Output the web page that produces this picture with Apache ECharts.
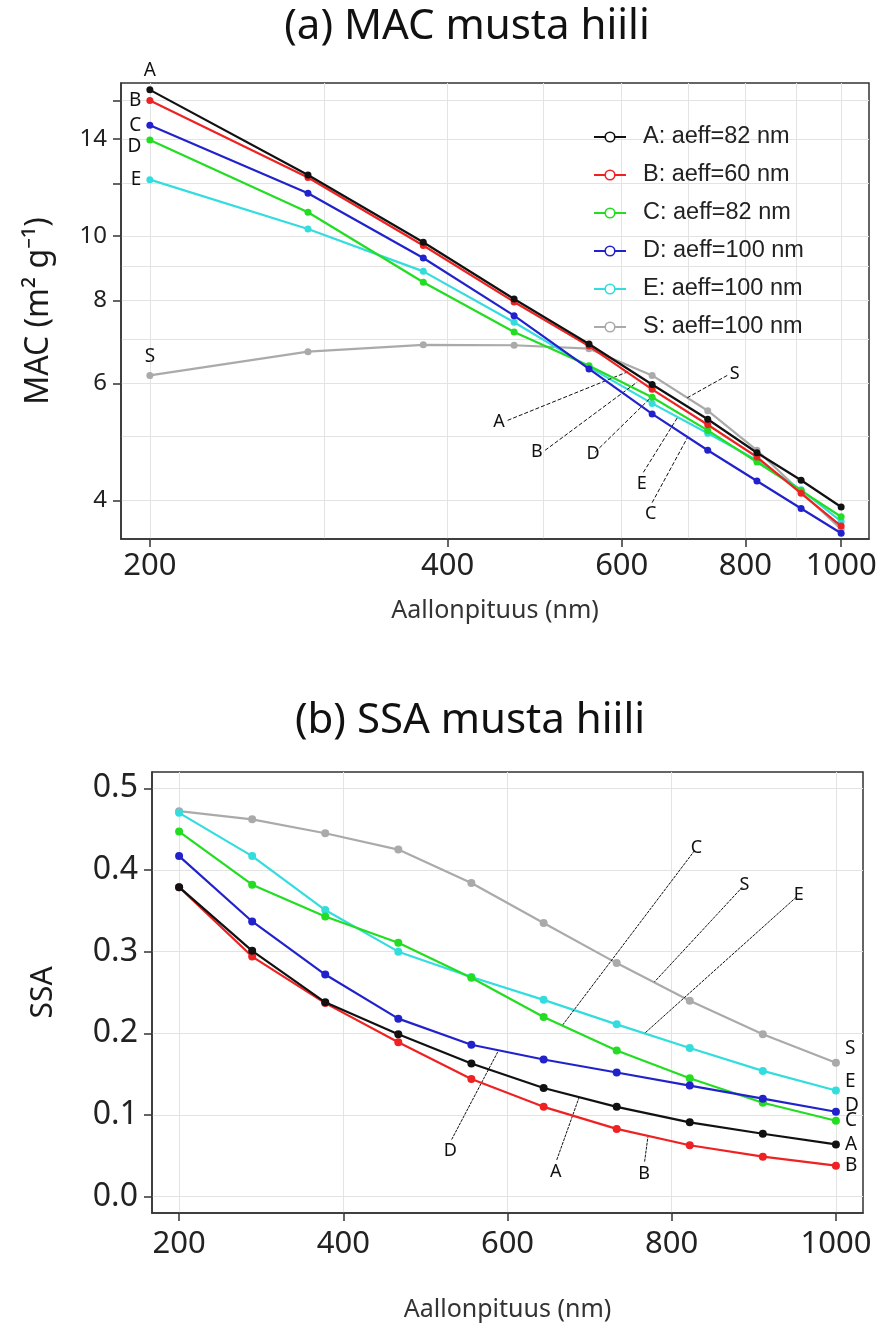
<!DOCTYPE html>
<html><head><meta charset="utf-8">
<script src="https://cdn.jsdelivr.net/npm/echarts@6/dist/echarts.min.js"></script>
<style>html,body{margin:0;padding:0;background:#fff}#c{width:883px;height:1331px}</style>
</head><body><div id="c"></div>
<script>
// ---------- data ----------
const wavelengths = [200, 289, 378, 467, 556, 644, 733, 822, 911, 1000];

const seriesNames = ['A: aeff=82 nm', 'B: aeff=60 nm', 'C: aeff=82 nm', 'D: aeff=100 nm', 'E: aeff=100 nm', 'S: aeff=100 nm'];

// (a) MAC (m2 g-1)
const macA = [16.6, 12.36, 9.79, 8.04, 6.88, 5.98, 5.30, 4.72, 4.29, 3.91];
const macB = [16.0, 12.25, 9.68, 7.96, 6.83, 5.88, 5.20, 4.65, 4.10, 3.66];
const macC = [13.95, 10.86, 8.52, 7.17, 6.38, 5.72, 5.10, 4.57, 4.14, 3.78];
const macD = [14.69, 11.6, 9.27, 7.59, 6.31, 5.40, 4.76, 4.28, 3.89, 3.57];
const macE = [12.16, 10.25, 8.85, 7.42, 6.35, 5.60, 5.05, 4.60, 4.15, 3.72];
const macS = [6.17, 6.70, 6.86, 6.85, 6.77, 6.17, 5.46, 4.76, 4.12, 3.62];

// (b) SSA
const ssaA = [0.379, 0.301, 0.238, 0.199, 0.163, 0.133, 0.110, 0.091, 0.077, 0.064];
const ssaB = [0.379, 0.294, 0.237, 0.189, 0.144, 0.110, 0.083, 0.063, 0.049, 0.038];
const ssaC = [0.447, 0.382, 0.343, 0.311, 0.268, 0.220, 0.179, 0.145, 0.115, 0.093];
const ssaD = [0.417, 0.337, 0.272, 0.218, 0.186, 0.168, 0.152, 0.136, 0.120, 0.104];
const ssaE = [0.470, 0.417, 0.351, 0.300, 0.269, 0.241, 0.211, 0.182, 0.154, 0.130];
const ssaS = [0.472, 0.462, 0.445, 0.425, 0.384, 0.335, 0.286, 0.240, 0.199, 0.164];

// tick labels
const topXTicks = [200, 400, 600, 800, 1000];
const topXGrid = [200, 300, 400, 500, 600, 700, 800, 900, 1000];
const topYTicks = [4, 6, 8, 10, 12, 14, 16];
const topYLabels = [4, 6, 8, 10, 14];
const topYGrid = [4, 5, 6, 7, 8, 9, 10, 12, 14, 16];
const botXTicks = [200, 400, 600, 800, 1000];
const botYTicks = [0, 0.1, 0.2, 0.3, 0.4, 0.5];

// annotation leader lines: [label, x1, y1, x2, y2] in data units
const topNotes = [
  ['A', 460, 5.28, 612, 6.27],
  ['B', 502, 4.76, 622, 6.03],
  ['D', 564, 4.73, 641, 5.70],
  ['E', 631, 4.41, 683, 5.33],
  ['C', 644, 3.97, 699, 4.97],
  ['S', 767, 6.17, 699, 5.71]
];
const botNotes = [
  ['C', 828, 0.424, 667, 0.210],
  ['S', 886, 0.379, 779, 0.263],
  ['E', 952, 0.367, 767, 0.200],
  ['D', 532, 0.070, 588, 0.177],
  ['A', 660, 0.045, 687, 0.121],
  ['B', 767, 0.043, 771, 0.073]
];

// ---------- styles ----------
const F = 'Noto Sans';
const colors = ['#111111', '#ee2222', '#22dd22', '#2222cc', '#33dddd', '#aaaaaa'];
const topVals = [macA, macB, macC, macD, macE, macS];
const botVals = [ssaA, ssaB, ssaC, ssaD, ssaE, ssaS];
// curve label at first point (top chart)
const topEndLabels = [
  {text: 'A', position: 'top', distance: 6},
  {text: 'B', position: 'left', distance: 5},
  {text: 'D', position: 'left', distance: 5, offset: [0, 7]},
  {text: 'C', position: 'left', distance: 5},
  {text: 'E', position: 'left', distance: 5},
  {text: 'S', position: 'top', distance: 6}
];
// curve label at last point (bottom chart)
const botEndLabels = [
  {text: 'A', offset: [0, 0]},
  {text: 'B', offset: [0, 0]},
  {text: 'C', offset: [0, 0]},
  {text: 'D', offset: [0, -6]},
  {text: 'E', offset: [0, -9]},
  {text: 'S', offset: [0, -14]}
];

function makeData(vals, idx, lab, size) {
  return vals.map((v, i) => {
    const item = {value: [wavelengths[i], v]};
    if (i === idx) {
      item.label = {
        show: true, formatter: lab.text, position: lab.position || 'right',
        distance: lab.distance || 5, offset: lab.offset || [0, 0],
        color: '#111', fontFamily: F, fontSize: size
      };
    }
    return item;
  });
}

function noteLines(notes) {
  return notes.map(n => [{name: n[0], coord: [n[1], n[2]]}, {coord: [n[3], n[4]]}]);
}

const axisLineStyle = {color: '#333', width: 1.5};
const gridLine = {show: true, lineStyle: {color: '#e3e3e3', width: 1}};

const series = [];
const drawOrder = [5, 4, 2, 3, 1, 0];
drawOrder.forEach(k => {
  series.push({
    name: seriesNames[k], type: 'line', xAxisIndex: 0, yAxisIndex: 0,
    data: makeData(topVals[k], 0, topEndLabels[k], 19),
    symbol: 'circle', symbolSize: 7, color: colors[k],
    lineStyle: {width: 2.2, color: colors[k]}, itemStyle: {color: colors[k]},
    z: 3 + drawOrder.indexOf(k)
  });
});
drawOrder.forEach(k => {
  series.push({
    name: 'SSA ' + seriesNames[k], type: 'line', xAxisIndex: 2, yAxisIndex: 2,
    data: makeData(botVals[k], wavelengths.length - 1, botEndLabels[k], 19),
    symbol: 'circle', symbolSize: 8, color: colors[k],
    lineStyle: {width: 2.2, color: colors[k]}, itemStyle: {color: colors[k]},
    z: 3 + drawOrder.indexOf(k)
  });
});
// annotation lines
series.push({
  type: 'line', xAxisIndex: 0, yAxisIndex: 0, data: [], silent: true,
  markLine: {
    silent: true, symbol: ['none', 'none'], animation: false,
    lineStyle: {color: '#111', width: 1, type: [4, 2]},
    label: {show: true, position: 'start', formatter: '{b}', color: '#111', fontFamily: F, fontSize: 18, distance: 3},
    data: noteLines(topNotes)
  }
});
series.push({
  type: 'line', xAxisIndex: 2, yAxisIndex: 2, data: [], silent: true,
  markLine: {
    silent: true, symbol: ['none', 'none'], animation: false,
    lineStyle: {color: '#111', width: 1, type: [3, 1]},
    label: {show: true, position: 'start', formatter: '{b}', color: '#111', fontFamily: F, fontSize: 18, distance: 3},
    data: noteLines(botNotes)
  }
});

const legendData = seriesNames.map((n, k) => ({
  name: n,
  itemStyle: {color: '#ffffff', borderColor: colors[k], borderWidth: 1.6}
}));

const option = {
  animation: false,
  backgroundColor: '#fff',
  graphic: [
    {type: 'text', x: 467, y: 27, style: {text: '(a) MAC musta hiili', font: '42px "Noto Sans"', fill: '#111', textAlign: 'center', verticalAlign: 'middle', textVerticalAlign: 'middle'}},
    {type: 'text', x: 470, y: 721, style: {text: '(b) SSA musta hiili', font: '42px "Noto Sans"', fill: '#111', textAlign: 'center', verticalAlign: 'middle', textVerticalAlign: 'middle'}}
  ],
  legend: {
    data: legendData, orient: 'vertical', left: 588, top: 120,
    itemGap: 14, itemWidth: 32, itemHeight: 12,
    textStyle: {fontFamily: 'Liberation Sans', fontSize: 23.5, color: '#222', padding: [0, 0, 0, 12]}
  },
  grid: [
    {left: 121, top: 83, width: 748, height: 456, show: true, borderColor: '#333', borderWidth: 1.5, backgroundColor: 'transparent'},
    {left: 152, top: 772, width: 711, height: 441, show: true, borderColor: '#333', borderWidth: 1.5, backgroundColor: 'transparent'}
  ],
  xAxis: [
    {type: 'log', logBase: 10, gridIndex: 0, min: 187, max: 1067,
     axisLine: {show: true, onZero: false, lineStyle: axisLineStyle},
     axisTick: {show: true, length: 8, customValues: topXTicks, lineStyle: axisLineStyle},
     axisLabel: {customValues: topXTicks, fontFamily: F, fontSize: 31, color: '#222', margin: 12, formatter: v => String(Math.round(v))},
     splitLine: {show: false}, minorTick: {show: false},
     name: 'Aallonpituus (nm)', nameLocation: 'middle', nameGap: 59,
     nameTextStyle: {fontFamily: F, fontSize: 25, color: '#333'}},
    {type: 'log', logBase: 10, gridIndex: 0, min: 187, max: 1067, position: 'top',
     axisLine: {show: false}, axisTick: {show: false, customValues: topXGrid},
     axisLabel: {show: false}, splitLine: gridLine},
    {type: 'value', gridIndex: 1, min: 167, max: 1033,
     axisLine: {show: true, onZero: false, lineStyle: axisLineStyle},
     axisTick: {show: true, length: 8, customValues: botXTicks, lineStyle: axisLineStyle},
     axisLabel: {customValues: botXTicks, fontFamily: F, fontSize: 31, color: '#222', margin: 16, formatter: v => String(Math.round(v))},
     splitLine: gridLine,
     name: 'Aallonpituus (nm)', nameLocation: 'middle', nameGap: 84,
     nameTextStyle: {fontFamily: F, fontSize: 25, color: '#333'}}
  ],
  yAxis: [
    {type: 'log', logBase: 10, gridIndex: 0, min: 3.5, max: 17,
     axisLine: {show: true, onZero: false, lineStyle: axisLineStyle},
     axisTick: {show: true, length: 8, customValues: topYTicks, lineStyle: axisLineStyle},
     axisLabel: {customValues: topYLabels, fontFamily: F, fontSize: 24, color: '#222', margin: 14, formatter: v => String(Math.round(v))},
     splitLine: {show: false},
     name: 'MAC (m² g⁻¹)', nameLocation: 'middle', nameGap: 66,
     nameTextStyle: {fontFamily: F, fontSize: 32, color: '#1a1a1a'}},
    {type: 'log', logBase: 10, gridIndex: 0, min: 3.5, max: 17, position: 'right',
     axisLine: {show: false}, axisTick: {show: false, customValues: topYGrid},
     axisLabel: {show: false}, splitLine: gridLine},
    {type: 'value', gridIndex: 1, min: -0.02, max: 0.52,
     axisLine: {show: true, onZero: false, lineStyle: axisLineStyle},
     axisTick: {show: true, length: 8, customValues: botYTicks, lineStyle: axisLineStyle},
     axisLabel: {customValues: botYTicks, fontFamily: F, fontSize: 32, color: '#222', margin: 14, formatter: v => v.toFixed(1)},
     splitLine: gridLine,
     name: 'SSA', nameLocation: 'middle', nameGap: 94,
     nameTextStyle: {fontFamily: F, fontSize: 30, color: '#1a1a1a'}}
  ],
  series: series
};

const chart = echarts.init(document.getElementById('c'));
chart.setOption(option);
</script>
</body></html>
